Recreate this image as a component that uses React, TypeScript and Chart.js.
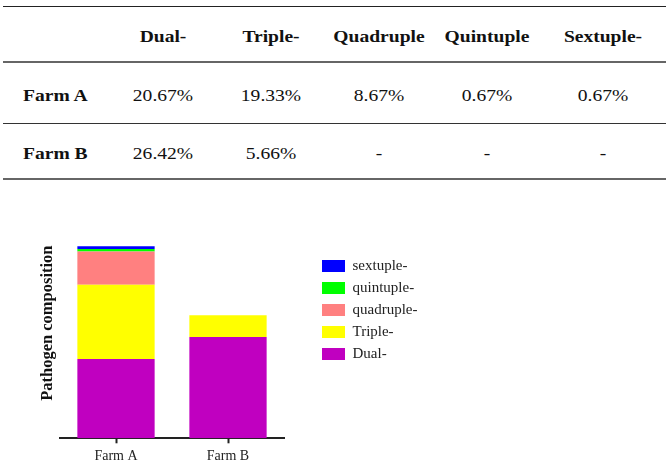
import React, { useEffect, useRef } from 'react';
import { Chart, registerables } from 'chart.js';

Chart.register(...registerables);

// ---- data ----
const farms = ['Farm A', 'Farm B'];
const tableHeaders = ['Dual-', 'Triple-', 'Quadruple', 'Quintuple', 'Sextuple-'];
const legendLabels = ['Dual-', 'Triple-', 'quadruple-', 'quintuple-', 'sextuple-'];
const dualValues: (number | null)[] = [20.67, 26.42];
const tripleValues: (number | null)[] = [19.33, 5.66];
const quadrupleValues: (number | null)[] = [8.67, null];
const quintupleValues: (number | null)[] = [0.67, null];
const sextupleValues: (number | null)[] = [0.67, null];
const seriesColors = ['#c000c0', '#ffff00', '#ff8080', '#00ff00', '#0000ff'];
const yAxisTitle = 'Pathogen composition';
const yMax = 60;

const allSeries = [dualValues, tripleValues, quadrupleValues, quintupleValues, sextupleValues];

const SERIF = '"Liberation Serif", "Times New Roman", serif';
const colCenters = [163, 271, 379, 487, 603];
const rowTops = [86, 143.6];

function fmt(v: number | null) {
  return v == null ? '-' : v.toFixed(2) + '%';
}

function Cell({ text, cx, top, bold }: { text: string; cx: number; top: number; bold?: boolean }) {
  return (
    <div
      style={{
        position: 'absolute',
        left: cx - 100,
        top,
        width: 200,
        textAlign: 'center',
        fontFamily: SERIF,
        fontSize: 17,
        lineHeight: '20px',
        fontWeight: bold ? 'bold' : 'normal',
        color: '#111',
        transform: 'scaleX(1.15)',
        whiteSpace: 'nowrap',
      }}
    >
      {text}
    </div>
  );
}

function Line({ y, h, color }: { y: number; h: number; color: string }) {
  return <div style={{ position: 'absolute', left: 3, width: 663, top: y - h / 2, height: h, background: color }} />;
}

export default function App() {
  const ref = useRef<HTMLCanvasElement | null>(null);

  useEffect(() => {
    if (!ref.current) return;
    const chart = new Chart(ref.current, {
      type: 'bar',
      data: {
        labels: farms,
        datasets: allSeries.map((d, i) => ({
          label: legendLabels[i],
          data: d,
          backgroundColor: seriesColors[i],
          borderWidth: 0,
          categoryPercentage: 1,
          barPercentage: 0.69,
        })),
      },
      options: {
        animation: false,
        responsive: false,
        maintainAspectRatio: false,
        layout: { padding: { top: 18, right: 244, bottom: 0, left: 0 } },
        plugins: {
          legend: {
            position: 'right',
            align: 'start',
            fullSize: false,
            reverse: true,
            maxWidth: 110,
            title: { display: true, text: ' ', padding: { top: 29.1, bottom: 0 }, font: { size: 12 } },
            labels: {
              boxWidth: 23,
              boxHeight: 12,
              padding: 7,
              color: '#222',
              font: { family: SERIF, size: 15 },
            },
          },
          tooltip: { enabled: false },
        },
        scales: {
          x: {
            stacked: true,
            grid: {
              display: true,
              drawOnChartArea: false,
              drawTicks: true,
              tickLength: 5,
              tickColor: '#222',
              tickWidth: 2,
              offset: false,
            },
            border: { display: true, color: '#222', width: 2 },
            ticks: { padding: 5, color: '#222', font: { family: SERIF, size: 14 } },
            afterFit: (s: any) => {
              s.height = 25.7;
            },
          },
          y: {
            stacked: true,
            min: 0,
            max: yMax,
            grid: { display: false },
            border: { display: false },
            ticks: { display: false },
            title: {
              display: true,
              text: yAxisTitle,
              color: '#111',
              font: { family: SERIF, size: 16.5, weight: 'bold' },
              padding: { top: 37.5, bottom: 0 },
            },
            afterFit: (s: any) => {
              s.width = 60;
            },
          },
          gap: {
            type: 'linear',
            position: 'right',
            display: true,
            grid: { display: false },
            border: { display: false },
            ticks: { display: false },
            afterFit: (s: any) => {
              s.width = 31;
            },
          },
        },
      } as any,
    });
    return () => chart.destroy();
  }, []);

  return (
    <div style={{ position: 'absolute', left: 0, top: 0, width: 669, height: 464, background: '#fff', overflow: 'hidden' }}>
      <Line y={6.5} h={1.5} color="#222" />
      <Line y={62} h={2.5} color="#666" />
      <Line y={123.5} h={1.6} color="#333" />
      <Line y={179} h={2.5} color="#666" />
      {tableHeaders.map((h, i) => (
        <Cell key={'h' + i} text={h} cx={colCenters[i]} top={27.3} bold />
      ))}
      {farms.map((f, r) => (
        <React.Fragment key={f}>
          <div
            style={{
              position: 'absolute',
              left: 23,
              top: rowTops[r],
              fontFamily: SERIF,
              fontSize: 17,
              lineHeight: '20px',
              fontWeight: 'bold',
              color: '#111',
              transform: 'scaleX(1.15)',
              transformOrigin: 'left center',
              whiteSpace: 'nowrap',
            }}
          >
            {f}
          </div>
          {allSeries.map((s, i) => (
            <Cell key={f + i} text={fmt(s[r])} cx={colCenters[i]} top={rowTops[r]} />
          ))}
        </React.Fragment>
      ))}
      <canvas
        ref={ref}
        width={669}
        height={274}
        style={{ position: 'absolute', left: 0, top: 190, width: 669, height: 274, display: 'block' }}
      />
    </div>
  );
}
